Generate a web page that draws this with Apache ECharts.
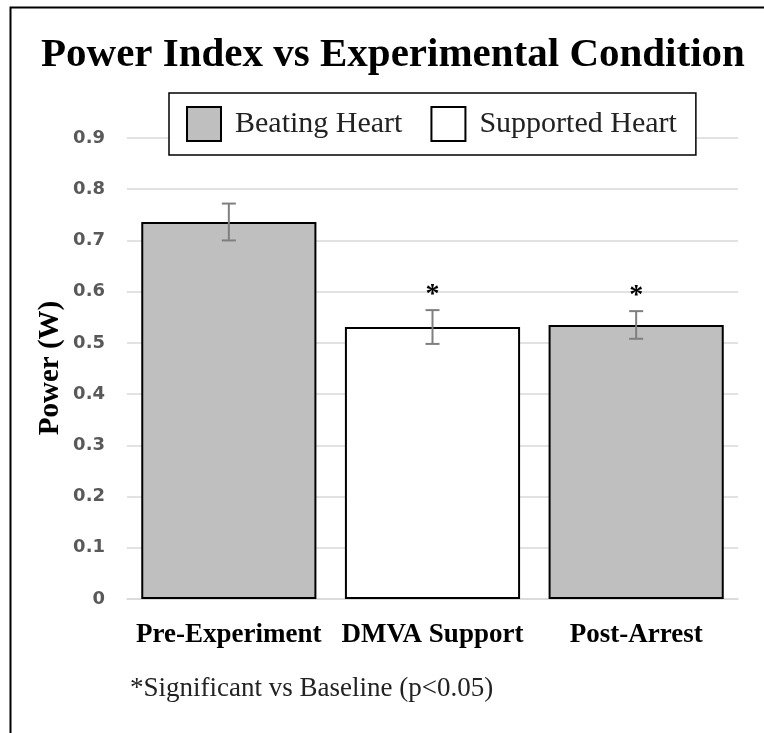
<!DOCTYPE html>
<html><head><meta charset="utf-8">
<script src="https://cdn.jsdelivr.net/npm/echarts@6/dist/echarts.min.js"></script>
<style>html,body{margin:0;padding:0;background:#fff}#c{width:764px;height:733px}</style>
</head><body><div id="c"></div>
<script>
const categories = ['Pre-Experiment', 'DMVA Support', 'Post-Arrest'];
const beatingHeart = [0.736, null, 0.535];
const supportedHeart = [null, 0.531, null];
const errorValues = [0.036, 0.033, 0.027];
const significant = [false, true, true];
const yTicks = [0, 0.1, 0.2, 0.3, 0.4, 0.5, 0.6, 0.7, 0.8, 0.9];

const means = categories.map((c, i) => beatingHeart[i] != null ? beatingHeart[i] : supportedHeart[i]);
const errData = categories.map((c, i) => [i, means[i] - errorValues[i], means[i] + errorValues[i], significant[i] ? 1 : 0]);

const serif = '"Liberation Serif", "DejaVu Serif", serif';
const chart = echarts.init(document.getElementById('c'));
chart.setOption({
  animation: false,
  title: {
    text: 'Power Index vs Experimental Condition',
    left: 36, top: 30,
    textStyle: {fontFamily: serif, fontWeight: 'bold', fontSize: 41, color: '#000'}
  },
  legend: {
    data: [{name: 'Beating Heart', icon: 'rect'}, {name: 'Supported Heart', icon: 'rect'}],
    left: 169, top: 93,
    padding: [13, 19, 13, 17],
    itemGap: 28,
    itemWidth: 34, itemHeight: 34,
    borderColor: '#000', borderWidth: 1.5,
    backgroundColor: '#fff',
    textStyle: {fontFamily: serif, fontSize: 30, color: '#222', padding: [0, 0, 0, 9]}
  },
  grid: {left: 127, right: 26, top: 138, bottom: 134},
  xAxis: {
    type: 'category', data: categories,
    axisLine: {show: true, lineStyle: {color: '#d9d9d9', width: 1.5}},
    axisTick: {show: false},
    axisLabel: {fontFamily: serif, fontWeight: 'bold', fontSize: 27, color: '#000', margin: 23, interval: 0}
  },
  yAxis: {
    type: 'value', min: 0, max: 0.9, interval: 0.1,
    axisLine: {show: false}, axisTick: {show: false},
    splitLine: {lineStyle: {color: '#d9d9d9', width: 1.5}},
    axisLabel: {
      fontFamily: '"DejaVu Sans", sans-serif', fontWeight: 'bold', fontSize: 18, color: '#595959', margin: 22,
      formatter: v => { const t = yTicks.find(x => Math.abs(x - v) < 1e-9); return t === 0 ? '0' : (t != null ? t.toFixed(1) : ''); }
    }
  },
  series: [
    {
      name: 'Beating Heart', type: 'bar', data: beatingHeart,
      barWidth: '86%', barGap: '-100%',
      itemStyle: {color: '#bfbfbf', borderColor: '#000', borderWidth: 2}
    },
    {
      name: 'Supported Heart', type: 'bar', data: supportedHeart,
      barWidth: '86%', barGap: '-100%',
      itemStyle: {color: '#ffffff', borderColor: '#000', borderWidth: 2}
    },
    {
      type: 'custom', z: 10,
      data: errData,
      renderItem: function (params, api) {
        const x = api.value(0);
        const lo = api.coord([x, api.value(1)]);
        const hi = api.coord([x, api.value(2)]);
        const cap = 7;
        const style = {stroke: '#7f7f7f', lineWidth: 2};
        const children = [
          {type: 'line', shape: {x1: lo[0], y1: lo[1], x2: hi[0], y2: hi[1]}, style: style},
          {type: 'line', shape: {x1: lo[0] - cap, y1: lo[1], x2: lo[0] + cap, y2: lo[1]}, style: style},
          {type: 'line', shape: {x1: hi[0] - cap, y1: hi[1], x2: hi[0] + cap, y2: hi[1]}, style: style}
        ];
        if (api.value(3)) {
          children.push({type: 'text', style: {text: '*', x: hi[0], y: hi[1] - 15, textAlign: 'center', textVerticalAlign: 'middle',
            font: 'bold 28px ' + serif, fill: '#000'}});
        }
        return {type: 'group', children: children};
      }
    }
  ],
  graphic: [
    {type: 'rect', left: 8, top: 5, shape: {width: 800, height: 800}, style: {fill: 'none', stroke: '#000', lineWidth: 2}, silent: true},
    {type: 'text', x: 51, y: 368, rotation: Math.PI / 2,
      style: {text: 'Power (W)', font: 'bold 29px ' + serif, fill: '#000', textAlign: 'center', textVerticalAlign: 'middle'}},
    {type: 'text', left: 130, top: 675, style: {text: '*Significant vs Baseline (p<0.05)', font: '27px ' + serif, fill: '#222'}}
  ]
});
</script></body></html>
